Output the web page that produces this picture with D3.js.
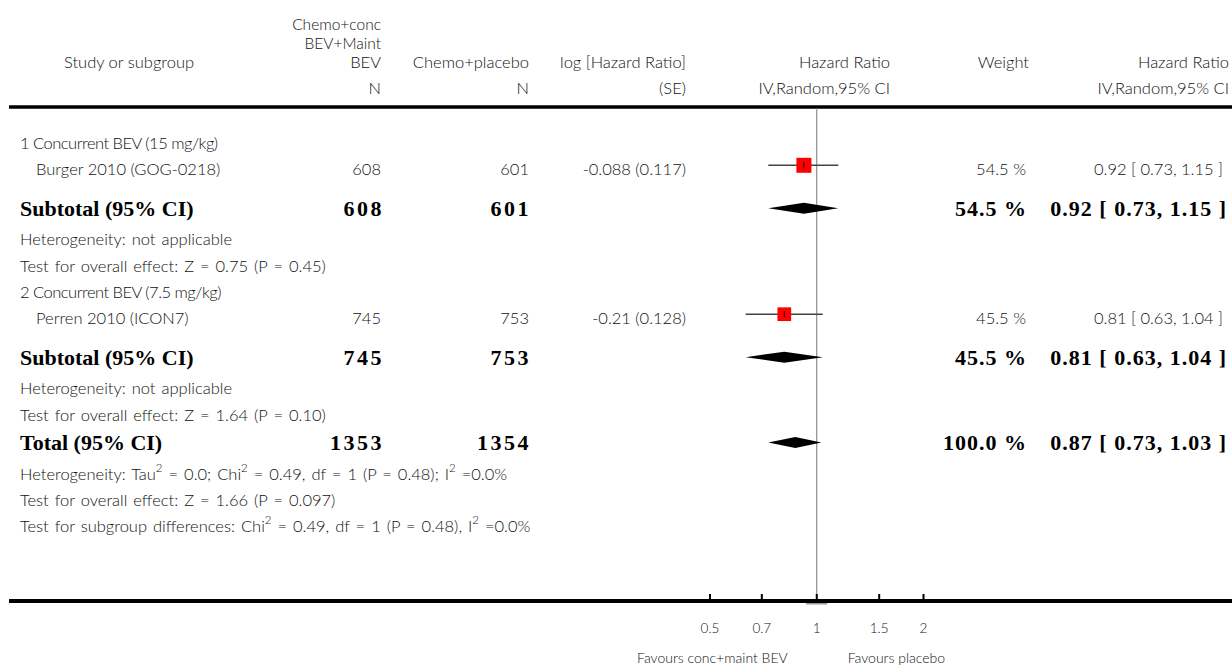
<!DOCTYPE html>
<html>
<head>
<meta charset="utf-8">
<script src="https://cdn.jsdelivr.net/npm/d3@7"></script>
<style>
  html, body { margin: 0; padding: 0; background: #fff; }
  svg { display: block; }
  .reg { font-family: Lato, "Open Sans", sans-serif; font-weight: 300; font-size: 16.5px; fill: #111; }
  .stack { font-size: 15.5px; }
  .note { word-spacing: 1.5px; }
  .grp { letter-spacing: -0.5px; }
  .bold { font-family: "Liberation Serif", "DejaVu Serif", serif; font-weight: bold; font-size: 22px; fill: #000; }
  .num { letter-spacing: 1px; }
  .ncol { letter-spacing: 2.5px; }
  .tick { font-family: Lato, "Open Sans", sans-serif; font-weight: 300; font-size: 13.5px; fill: #111; }
  .fav { font-family: Lato, "Open Sans", sans-serif; font-weight: 300; font-size: 14px; fill: #111; }
</style>
</head>
<body>
<svg id="chart" width="1232" height="666"></svg>
<script>
// ---- data ----
const groupLabels = ["1 Concurrent BEV (15 mg/kg)", "2 Concurrent BEV (7.5 mg/kg)"];
const studyNames = ["Burger 2010 (GOG-0218)", "Perren 2010 (ICON7)"];
const nTreatment = [608, 745];
const nControl = [601, 753];
const logHrText = ["-0.088", "-0.21"];
const seText = ["0.117", "0.128"];
const studyHR = [0.92, 0.81];
const studyLow = [0.73, 0.63];
const studyHigh = [1.15, 1.04];
const studyWeight = [54.5, 45.5];

const subtotalHR = [0.92, 0.81];
const subtotalLow = [0.73, 0.63];
const subtotalHigh = [1.15, 1.04];
const subtotalWeight = [54.5, 45.5];
const subtotalHet = ["Heterogeneity: not applicable", "Heterogeneity: not applicable"];
const subtotalTest = ["Test for overall effect: Z = 0.75 (P = 0.45)", "Test for overall effect: Z = 1.64 (P = 0.10)"];

const totalN = [1353, 1354];
const totalHR = 0.87, totalLow = 0.73, totalHigh = 1.03, totalWeight = 100.0;

const tickValues = [0.5, 0.7, 1, 1.5, 2];
const tickLabels = ["0.5", "0.7", "1", "1.5", "2"];
const favourLeft = "Favours conc+maint BEV";
const favourRight = "Favours placebo";

// ---- rows ----
const rows = [];
groupLabels.forEach((g, i) => {
  rows.push({ kind: "group", label: g });
  rows.push({ kind: "study", i });
  rows.push({ kind: "subtotal", i });
  rows.push({ kind: "note", label: subtotalHet[i] });
  rows.push({ kind: "note", label: subtotalTest[i] });
});
rows.push({ kind: "total" });
rows.push({ kind: "note", rich: [["Heterogeneity: Tau"], ["2", 1], [" = 0.0; Chi"], ["2", 1], [" = 0.49, df = 1 (P = 0.48); I"], ["2", 1], [" =0.0%"]] });
rows.push({ kind: "note", label: "Test for overall effect: Z = 1.66 (P = 0.097)" });
rows.push({ kind: "note", rich: [["Test for subgroup differences: Chi"], ["2", 1], [" = 0.49, df = 1 (P = 0.48), I"], ["2", 1], [" =0.0%"]] });

// vertical spacing depends on whether a row is bold (subtotal/total) or regular
function gap(prev, cur) {
  const big = k => k === "subtotal" || k === "total";
  if (big(cur.kind)) return prev.kind === "study" ? 39 : 28;
  if (big(prev.kind)) return 31;
  return 26.3;
}
let yCur = 143;
rows.forEach((r, k) => {
  if (k > 0) yCur += gap(rows[k - 1], r);
  r.y = yCur;
});

// ---- layout ----
const svg = d3.select("#chart");
const W = 1232;
const headerLineY = 107;
const axisY = 601;
const colNT = 381, colNC = 529, colLog = 686, colPlot = 890, colW = 1026, colHR = 1223;

const x = d3.scaleLog().domain([0.5, 2]).range([710, 923.5]);
const boxSize = d3.scaleSqrt().domain([0, 54.5]).range([0, 15]);

function txt(cls, xp, yp, s, anchor) {
  return svg.append("text").attr("class", cls).attr("x", xp).attr("y", yp)
    .attr("dominant-baseline", "central").attr("text-anchor", anchor || "start").text(s);
}
const fmt2 = d3.format(".2f");
const ciText = (h, l, u) => `${fmt2(h)} [ ${fmt2(l)}, ${fmt2(u)} ]`;

// header
txt("reg", 64, 62, "Study or subgroup");
txt("reg stack", colNT, 24, "Chemo+conc", "end");
txt("reg stack", colNT, 43, "BEV+Maint", "end");
txt("reg", colNT, 62, "BEV", "end");
txt("reg", colNC, 62, "Chemo+placebo", "end");
txt("reg", colLog, 62, "log [Hazard Ratio]", "end");
txt("reg", colPlot, 62, "Hazard Ratio", "end");
txt("reg", 1029, 62, "Weight", "end");
txt("reg", 1229, 62, "Hazard Ratio", "end");
txt("reg", colNT, 88, "N", "end");
txt("reg", colNC, 88, "N", "end");
txt("reg", colLog, 88, "(SE)", "end");
txt("reg", colPlot, 88, "IV,Random,95% CI", "end");
txt("reg", 1229, 88, "IV,Random,95% CI", "end");

svg.append("line").attr("x1", 9).attr("x2", W).attr("y1", headerLineY).attr("y2", headerLineY)
  .attr("stroke", "#000").attr("stroke-width", 3.5);

// line of no effect
svg.append("line").attr("x1", x(1)).attr("x2", x(1)).attr("y1", headerLineY + 1).attr("y2", axisY)
  .attr("stroke", "#777").attr("stroke-width", 1);

// rows
rows.forEach(r => {
  if (r.kind === "group") {
    txt("reg grp", 20, r.y, r.label);
  } else if (r.kind === "note") {
    if (r.rich) {
      const t = svg.append("text").attr("class", "reg note").attr("x", 20).attr("y", r.y)
        .attr("dominant-baseline", "central");
      r.rich.forEach(([s, sup]) => {
        const sp = t.append("tspan").text(s);
        if (sup) sp.attr("baseline-shift", "super").attr("font-size", 11.5);
      });
    } else {
      txt("reg note", 20, r.y, r.label);
    }
  } else if (r.kind === "study") {
    const i = r.i;
    txt("reg", 36, r.y, studyNames[i]);
    txt("reg", colNT, r.y, nTreatment[i], "end");
    txt("reg", colNC, r.y, nControl[i], "end");
    txt("reg", colLog, r.y, `${logHrText[i]} (${seText[i]})`, "end");
    txt("reg", colW, r.y, `${studyWeight[i].toFixed(1)} %`, "end");
    txt("reg", colHR, r.y, ciText(studyHR[i], studyLow[i], studyHigh[i]), "end");
    const cy = r.y - 4;
    svg.append("line").attr("x1", x(studyLow[i])).attr("x2", x(studyHigh[i]))
      .attr("y1", cy).attr("y2", cy).attr("stroke", "#444").attr("stroke-width", 1.6);
    const s = boxSize(studyWeight[i]);
    svg.append("rect").attr("x", x(studyHR[i]) - s / 2).attr("y", cy - s / 2)
      .attr("width", s).attr("height", s).attr("fill", "#ff0000");
    svg.append("line").attr("x1", x(studyHR[i])).attr("x2", x(studyHR[i]))
      .attr("y1", cy - 3).attr("y2", cy + 3).attr("stroke", "#000").attr("stroke-width", 1);
  } else if (r.kind === "subtotal" || r.kind === "total") {
    const isT = r.kind === "total";
    const i = r.i;
    const h = isT ? totalHR : subtotalHR[i];
    const lo = isT ? totalLow : subtotalLow[i];
    const hi = isT ? totalHigh : subtotalHigh[i];
    const w = isT ? totalWeight : subtotalWeight[i];
    txt("bold", 20, r.y, isT ? "Total (95% CI)" : "Subtotal (95% CI)");
    txt("bold ncol", colNT + 3, r.y, isT ? totalN[0] : nTreatment[i], "end");
    txt("bold ncol", colNC + 2, r.y, isT ? totalN[1] : nControl[i], "end");
    txt("bold num", colW + 1, r.y, `${w.toFixed(1)} %`, "end");
    txt("bold num", colHR + 4, r.y, ciText(h, lo, hi), "end");
    const cy = r.y;
    svg.append("path")
      .attr("d", `M${x(lo)},${cy} L${x(h)},${cy - 5.5} L${x(hi)},${cy} L${x(h)},${cy + 5.5} Z`)
      .attr("fill", "#000");
  }
});

// axis
svg.append("line").attr("x1", 9).attr("x2", W).attr("y1", axisY).attr("y2", axisY)
  .attr("stroke", "#000").attr("stroke-width", 4);
svg.append("rect").attr("x", x(1) - 10.5).attr("y", axisY + 2).attr("width", 21).attr("height", 1.5)
  .attr("fill", "#999");
svg.selectAll(".tk").data(tickValues).enter().append("line")
  .attr("x1", d => x(d)).attr("x2", d => x(d))
  .attr("y1", axisY - 7).attr("y2", axisY).attr("stroke", "#000").attr("stroke-width", 2);
svg.selectAll(".tl").data(tickValues).enter().append("text")
  .attr("class", "tick").attr("x", d => x(d)).attr("y", 628)
  .attr("dominant-baseline", "central").attr("text-anchor", "middle")
  .text((d, i) => tickLabels[i]);
txt("fav", x(1) - 29, 657.5, favourLeft, "end");
txt("fav", x(1) + 31, 657.5, favourRight, "start");
</script>
</body>
</html>
